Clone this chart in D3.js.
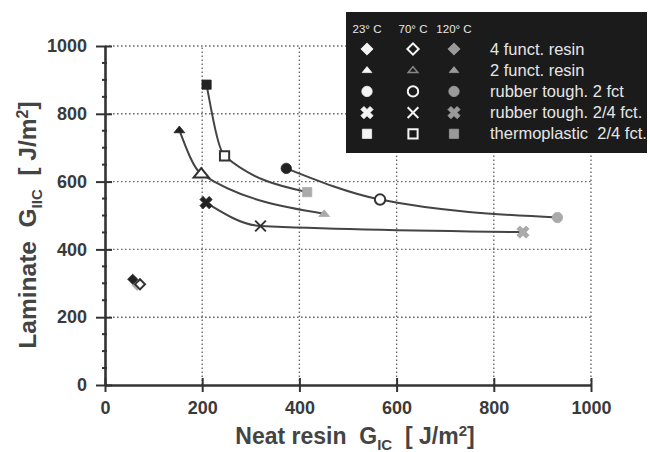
<!DOCTYPE html>
<html><head><meta charset="utf-8">
<script src="https://cdn.jsdelivr.net/npm/d3@7"></script>
<style>body{margin:0;background:#fff}svg{display:block}text{font-family:"Liberation Sans",Arial,sans-serif;white-space:pre}</style>
</head><body><svg id="c" width="650" height="452"></svg>
<script>
// ---- data ----
const materials = ["4 funct. resin","2 funct. resin","rubber tough. 2 fct","rubber tough. 2/4 fct.","thermoplastic  2/4 fct."];
const temps = ["23° C","70° C","120° C"];
const shapes = ["diamond","triangle","circle","x","square"];
const connected = [false,true,true,true,true];
// Neat resin GIc at 23, 70, 120 °C per material
const gic = [
  [57, 72, 66],
  [153, 198, 451],
  [373, 566, 931],
  [208, 320, 860],
  [209, 246, 416]
];
// Laminate GIIc at 23, 70, 120 °C per material
const giic = [
  [312, 297, 294],
  [752, 623, 505],
  [639, 547, 494],
  [538, 469, 451],
  [886, 676, 569]
];
const xTicks = [0,200,400,600,800,1000];
const yTicks = [0,200,400,600,800,1000];
const yMinor = d3.range(0,1001,50);

// ---- drawing ----
const svg = d3.select("#c");
const x = d3.scaleLinear().domain([0,1000]).range([105,591]);
const y = d3.scaleLinear().domain([0,1000]).range([385,46]);
const axisCol = "#333", textCol = "#3a3a3a";

// grid
const grid = svg.append("g").attr("stroke","#6a6a6a").attr("stroke-width",1.4).attr("stroke-dasharray","1.6,2.4");
grid.selectAll(".gx").data(xTicks.slice(1)).join("line")
  .attr("x1",d=>x(d)).attr("x2",d=>x(d)).attr("y1",y(0)).attr("y2",y(1000));
grid.selectAll(".gy").data(yTicks.slice(1)).join("line")
  .attr("y1",d=>y(d)).attr("y2",d=>y(d)).attr("x1",x(0)).attr("x2",x(1000));

// axes
const fmt = d3.format("d");
const xAxis = d3.axisBottom(x).tickValues(xTicks).tickFormat(fmt).tickSize(0).tickPadding(16);
const gX = svg.append("g").attr("transform",`translate(0,${y(0)})`).call(xAxis);
gX.select(".domain").attr("stroke",axisCol).attr("stroke-width",2.6);
gX.selectAll(".tick line").remove();
gX.selectAll(".tick").append("line").attr("y1",-7).attr("y2",7).attr("stroke",axisCol).attr("stroke-width",2);
gX.selectAll(".tick text").attr("font-size",18).attr("font-weight","bold").attr("fill",textCol).attr("font-family","Liberation Sans, Arial");

const yAxis = d3.axisLeft(y).tickValues(yTicks).tickFormat(fmt).tickSize(0).tickPadding(18);
const gY = svg.append("g").attr("transform",`translate(${x(0)},0)`).call(yAxis);
gY.select(".domain").attr("stroke",axisCol).attr("stroke-width",2.6);
gY.selectAll(".tick line").remove();
gY.selectAll(".tick").append("line").attr("x1",-9).attr("x2",7).attr("stroke",axisCol).attr("stroke-width",2);
gY.selectAll(".tick text").attr("font-size",18).attr("font-weight","bold").attr("fill",textCol).attr("font-family","Liberation Sans, Arial");
gY.append("g").selectAll("line").data(yMinor.filter(v=>v%200)).join("line")
  .attr("x1",-3).attr("x2",2).attr("y1",d=>y(d)).attr("y2",d=>y(d)).attr("stroke",axisCol).attr("stroke-width",2);

// axis titles
const xt = svg.append("text").attr("x",355).attr("y",444).attr("text-anchor","middle")
  .attr("font-size",23).attr("font-weight","bold").attr("fill","#444");
xt.append("tspan").text("Neat resin  G");
xt.append("tspan").attr("font-size",15).attr("dy",6).text("IC");
xt.append("tspan").attr("dy",-6).text("  [ J/m");
xt.append("tspan").attr("font-size",15).attr("dy",-8).text("2");
xt.append("tspan").attr("dy",8).text("]");

const yt = svg.append("text").attr("transform","translate(36,225) rotate(-90)").attr("text-anchor","middle")
  .attr("font-size",24.5).attr("font-weight","bold").attr("fill","#444");
yt.append("tspan").text("Laminate  G");
yt.append("tspan").attr("font-size",15).attr("dy",6).text("IIC");
yt.append("tspan").attr("dy",-6).text("  [ J/m");
yt.append("tspan").attr("font-size",16).attr("dy",-8).text("2");
yt.append("tspan").attr("dy",8).text("]");

// markers
const flatTriangle = {draw(ctx, size){
  const w = Math.sqrt(size)*1.25, h = w*0.62;
  ctx.moveTo(0,-h*0.6); ctx.lineTo(w/2,h*0.4); ctx.lineTo(-w/2,h*0.4); ctx.closePath();
}};
function symPath(shape, size){
  if(shape==="diamond") return d3.symbol(d3.symbolSquare, size*0.6)();
  if(shape==="triangle") return d3.symbol(flatTriangle, size)();
  if(shape==="circle") return d3.symbol(d3.symbolCircle, size)();
  if(shape==="x") return d3.symbol(d3.symbolCross, size*1.1)();
  return d3.symbol(d3.symbolSquare, size)();
}
function drawMarker(g, shape, ti, cx, cy, legend){
  const size = legend ? 85 : 85;
  const fills = legend ? ["#f4f4f4","none","#9a9a9a"] : ["#222","#fff","#aaa"];
  const strokes = legend ? ["#f4f4f4","#f4f4f4","#9a9a9a"] : ["#222","#333","#aaa"];
  let p;
  if(shape==="x" && ti===1){
    p = g.append("path").attr("d", d3.symbol(d3.symbolX, size*0.9)())
      .attr("fill","none").attr("stroke",strokes[1]).attr("stroke-width",2);
  } else {
    let s = size;
    if(shape==="triangle") s = legend ? 60 : (ti===1 ? 150 : 75);
    if(shape==="diamond" && legend) s = ti===1 ? 105 : 125;
    p = g.append("path").attr("d", symPath(shape, s))
      .attr("fill",fills[ti]).attr("stroke",strokes[ti]).attr("stroke-width", ti===1?2:0.8);
  }
  if(ti===1 && legend && shape==="triangle") p.attr("stroke","#888").attr("stroke-width",1.5);
  let tr = `translate(${cx},${cy})`;
  if((shape==="x" && ti!==1) || shape==="diamond") tr += " rotate(45)";
  p.attr("transform",tr);
}

// curves
const line = d3.line().x(d=>x(d[0])).y(d=>y(d[1])).curve(d3.curveMonotoneX);
materials.forEach((m,mi)=>{
  if(!connected[mi]) return;
  const pts = gic[mi].map((v,ti)=>[v, giic[mi][ti]]);
  svg.append("path").attr("d",line(pts)).attr("fill","none").attr("stroke","#444").attr("stroke-width",2);
});
const pg = svg.append("g");
materials.forEach((m,mi)=>{
  [2,1,0].forEach(ti=>{
    drawMarker(pg, shapes[mi], ti, x(gic[mi][ti]), y(giic[mi][ti]), false);
  });
});

// legend
const lg = svg.append("g");
lg.append("rect").attr("x",346).attr("y",12).attr("width",301).attr("height",141).attr("fill","#1b1b1b");
const colX = [367,413,454];
temps.forEach((t,i)=>{
  lg.append("text").attr("x",colX[i]).attr("y",33).attr("text-anchor","middle")
    .attr("font-size",11.5).attr("fill","#e8e8e8").text(t);
});
materials.forEach((m,mi)=>{
  const cy = 49 + mi*21.2;
  temps.forEach((t,ti)=>drawMarker(lg, shapes[mi], ti, colX[ti], cy, true));
  lg.append("text").attr("x",490).attr("y",cy+5.5).attr("font-size",16.5).attr("fill","#e6e6e6").text(m);
});
</script></body></html>
